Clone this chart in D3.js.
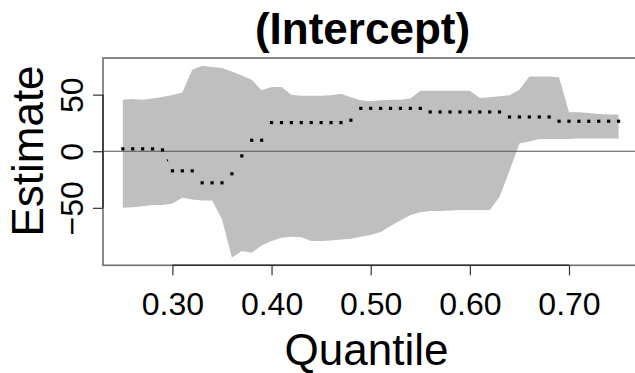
<!DOCTYPE html>
<html>
<head>
<meta charset="utf-8">
<script src="https://cdn.jsdelivr.net/npm/d3@7"></script>
<style>
  html, body { margin: 0; padding: 0; background: #fff; }
  svg { display: block; }
  text { font-family: "Liberation Sans", Arial, Helvetica, sans-serif; fill: #000; }
</style>
</head>
<body>
<svg id="chart" width="635" height="373"></svg>
<script>
// ---- data ----
const taus = [0.25,0.26,0.27,0.28,0.29,0.30,0.31,0.32,0.33,0.34,
              0.35,0.36,0.37,0.38,0.39,0.40,0.41,0.42,0.43,0.44,
              0.45,0.46,0.47,0.48,0.49,0.50,0.51,0.52,0.53,0.54,
              0.55,0.56,0.57,0.58,0.59,0.60,0.61,0.62,0.63,0.64,
              0.65,0.66,0.67,0.68,0.69,0.70,0.71,0.72,0.73,0.74,0.75];
const estimate = [2.1,2.1,2.1,2.1,1.2,-17.3,-17.3,-17.3,-27.9,-27.9,
                  -27.9,-19.9,-4.1,9.7,9.7,25.3,25.3,25.3,25.3,25.3,
                  25.3,25.3,25.3,27.4,37.9,37.9,37.9,37.9,37.9,37.9,
                  37.9,34.7,34.7,34.7,34.7,34.7,34.7,34.7,34.7,30.3,
                  30.3,30.3,30.3,30.3,26.5,26.5,26.5,26.5,26.5,26.5,26.5];
const upper = [45.6,46.2,45.6,46.7,48.0,49.7,52.0,72.0,75.6,74.4,
               73.5,70.5,67.0,63.2,53.8,56.8,56.8,50.0,49.1,49.1,
               49.1,49.4,50.9,47.6,45.0,44.1,45.0,45.6,45.6,46.5,
               53.5,53.5,53.5,53.5,53.5,53.5,47.1,47.6,48.5,49.4,
               54.4,66.1,66.1,66.1,65.3,34.4,34.4,33.8,33.0,32.4,32.4];
const lower = [-49.9,-49.4,-48.5,-47.6,-47.6,-46.1,-41.1,-42.6,-43.5,-43.5,
               -60.2,-94.0,-88.2,-89.6,-83.2,-79.4,-76.4,-75.5,-76.0,-79.4,
               -79.4,-78.8,-77.9,-77.3,-75.5,-74.1,-71.4,-66.1,-61.1,-56.4,
               -53.8,-52.9,-52.9,-52.3,-52.0,-52.0,-52.0,-52.0,-40.2,-17.3,
               6.8,8.6,10.9,10.9,10.9,10.9,11.2,11.2,11.2,11.2,11.2];
const xTicks = [0.30,0.40,0.50,0.60,0.70];
const yTicks = [-50,0,50];
const titleText = "(Intercept)";
const xLabel = "Quantile";
const yLabel = "Estimate";

// ---- layout ----
const svg = d3.select("#chart");
const pLeft = 103, pTop = 58, pRight = 638.4, pBottom = 265.3;

function ext(a, b) { const d = (b - a) * 0.04; return [a - d, b + d]; }
const xDom = ext(d3.min(taus), d3.max(taus));
const yDom = ext(d3.min(lower), d3.max(upper));

const x = d3.scaleLinear().domain(xDom).range([pLeft, pRight]);
const y = d3.scaleLinear().domain(yDom).range([pBottom, pTop]);

const rows = taus.map((t, i) => ({t, est: estimate[i], lo: lower[i], hi: upper[i]}));

// confidence band
svg.append("path")
  .datum(rows)
  .attr("fill", "#bfbfbf")
  .attr("stroke", "none")
  .attr("d", d3.area().x(d => x(d.t)).y0(d => y(d.lo)).y1(d => y(d.hi)));

// zero line
svg.append("line")
  .attr("x1", pLeft).attr("x2", pRight)
  .attr("y1", y(0)).attr("y2", y(0))
  .attr("stroke", "#555").attr("stroke-width", 1.1);

// type="b" connecting segments with gaps around points
const gap = 10.3;
for (let i = 0; i < rows.length - 1; i++) {
  const x0 = x(rows[i].t), y0 = y(rows[i].est);
  const x1 = x(rows[i+1].t), y1 = y(rows[i+1].est);
  const dx = x1 - x0, dy = y1 - y0, L = Math.hypot(dx, dy);
  if (L > 2 * gap) {
    const ux = dx / L, uy = dy / L;
    svg.append("line")
      .attr("x1", x0 + ux * gap).attr("y1", y0 + uy * gap)
      .attr("x2", x1 - ux * gap).attr("y2", y1 - uy * gap)
      .attr("stroke", "#000").attr("stroke-width", 1);
  }
}

// points
svg.append("g").selectAll("rect")
  .data(rows).join("rect")
  .attr("x", d => x(d.t) - 1.6).attr("y", d => y(d.est) - 1.6)
  .attr("width", 3.2).attr("height", 3.2)
  .attr("fill", "#000");

// box
svg.append("rect")
  .attr("x", pLeft).attr("y", pTop)
  .attr("width", pRight - pLeft).attr("height", pBottom - pTop)
  .attr("fill", "none").attr("stroke", "#707070").attr("stroke-width", 1.6);

// x axis
const xAxis = svg.append("g")
  .attr("transform", `translate(0,${pBottom})`)
  .call(d3.axisBottom(x).tickValues(xTicks).tickFormat(d3.format(".2f")).tickSize(10).tickSizeOuter(0));
xAxis.select(".domain").remove();
xAxis.selectAll(".tick line").attr("stroke", "#333").attr("stroke-width", 1.2);
xAxis.selectAll(".tick text")
  .attr("y", 50).attr("dy", 0)
  .style("font-size", "32px").style("font-family", "'Liberation Sans', Arial, sans-serif");
xAxis.append("line")
  .attr("x1", x(xTicks[0])).attr("x2", x(xTicks[xTicks.length - 1]))
  .attr("y1", 0).attr("y2", 0)
  .attr("stroke", "#333").attr("stroke-width", 1.6);

// y axis
const yAxis = svg.append("g")
  .attr("transform", `translate(${pLeft},0)`)
  .call(d3.axisLeft(y).tickValues(yTicks).tickSize(10).tickSizeOuter(0));
yAxis.select(".domain").remove();
yAxis.selectAll(".tick line").attr("stroke", "#333").attr("stroke-width", 1.2);
yAxis.selectAll(".tick text")
  .attr("x", 0).attr("y", -20).attr("dy", 0)
  .attr("text-anchor", "middle")
  .attr("transform", "rotate(-90)")
  .style("font-size", "32px").style("font-family", "'Liberation Sans', Arial, sans-serif");
yAxis.append("line")
  .attr("x1", 0).attr("x2", 0)
  .attr("y1", y(yTicks[0])).attr("y2", y(yTicks[yTicks.length - 1]))
  .attr("stroke", "#333").attr("stroke-width", 1.6);

// title
svg.append("text")
  .attr("x", 362.5).attr("y", 43.5)
  .attr("text-anchor", "middle")
  .style("font-size", "44px").style("font-weight", "bold")
  .text(titleText);

// x label
svg.append("text")
  .attr("x", 366.5).attr("y", 365)
  .attr("text-anchor", "middle")
  .style("font-size", "44px")
  .text(xLabel);

// y label
svg.append("text")
  .attr("transform", "translate(43,151) rotate(-90)")
  .attr("text-anchor", "middle")
  .style("font-size", "44px")
  .text(yLabel);
</script>
</body>
</html>
